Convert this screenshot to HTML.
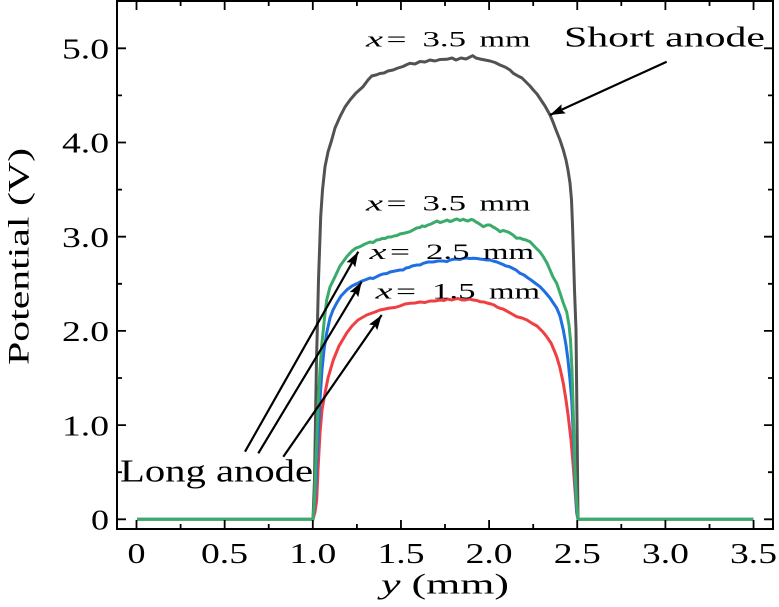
<!DOCTYPE html>
<html><head><meta charset="utf-8"><style>
html,body{margin:0;padding:0;background:#fff;}
svg{display:block;}
text{font-family:"Liberation Serif",serif;fill:#000;}
</style></head><body>
<svg width="779" height="607" viewBox="0 0 779 607" xmlns="http://www.w3.org/2000/svg">
<defs>
<marker id="ah" markerUnits="userSpaceOnUse" markerWidth="16" markerHeight="12" refX="15" refY="5" orient="auto">
<path d="M0,0 L15,5 L0,10 L2.5,5 z" fill="#000"/>
</marker>
</defs>
<rect x="0" y="0" width="779" height="607" fill="#fff"/>

<!-- curves -->
<g fill="none" stroke-width="3" stroke-linejoin="round" stroke-linecap="butt">
<polyline stroke="#525252" points="137,519.3 313,519.3 314.5,480 315.5,420 316.5,360 317.3,330 318.5,280 320.7,216.7 322.5,190 325,166.7 328,152 331.7,140 335,128 340,116.7 345,107 350,100 356,93 363,86.7 368,80 371.7,76 376,75 380,73.5 384,73 388,71 393,70 398,68 403,66.5 406,65 410,63.3 415,64 420,61.5 425,62 430,60 435,61 440,59.5 446.7,59.3 452,58 456,60 461,58 466,59 470,57 472.7,55.7 476,58 480,59 485,60 490,61 495,62.5 500,65 505,67 510,70 513.3,73.3 518,76 522,78 526,82 530,86 533.3,90 537,94 541,100 545,106 550,115 553,122 556,130 560,140 563.3,150 566,160 568,170 570,183 571.5,200 572.5,225 573.3,250 574.5,290 576,330 577,420 578,519.3 753.5,519.3"/>
<polyline stroke="#ef3f42" points="313,519.3 315,512 316.7,500 318,470 320,433 322,410 325,393 328,378 333.3,360 339,346 346.7,333 352,326 358,320 366.7,315 375,312 380,310 385,309 390,308 395,307.5 400,306 405,304 410,303.3 415,303 420,302 425,302.5 430,301 435,301 440,300 444,300.5 447,299 452,300 455,299 458,298.5 462,300 465,300 469,299 473.3,300 477,300.5 480,301.7 484,302 487,303 491,304 494,305 497,307 500,308.3 503,309 506.7,311 512,314 516.7,316.7 522,318 527,320 530,322 533.3,324 537,326 540,329 543,332 546.7,336.7 551,343 554,350 556.7,356.7 560,368 563.3,383.3 566,400 568.3,416.7 571,440 573.3,466.7 575,490 576.7,513.3 578,519.3"/>
<polyline stroke="#1f6fe3" points="313,519.3 315,500 317,460 320,400 322,370 324,350 326.7,333 330,318 333,310 336.7,303 341,296 346.7,290 352,286 358.3,283 362,281 365,280 370,278 373,278.5 376.7,276.7 380,275 383,274 387,273.5 390,272 395,271 400,270 403,270 406,268 409,267.5 412,266 417,265 420,265 423.3,263.3 428,262 433,262 438,261 443,261 447,261.5 450,260 455,259 460,259.5 463,258.5 466,258 470,258.5 473.3,258.3 477,258.5 480,259 484,259.5 487,260 490,260 493,261 497,262 500,263.3 503,264.5 506,266 509,266.5 512,268 516,270 520,273.3 524,275 528,278 531,280 535,283 540,286.7 545,292 550,298 553.3,303 556.7,308 560,316 563.3,330 566,345 568,360 570,380 571.7,400 573.5,440 575,480 576.7,510 578,519.3"/>
<polyline stroke="#3aab6a" points="137,519.3 313,519.3 314.5,500 316,460 318.3,400 320,370 321.7,345 323,333 324.5,318 326.7,300 330,287 335,276.7 340,266 346.7,256.7 352,251 356,248 360,246.7 365,244 370,242 373,242.5 376.7,240 380,239.5 382,238.5 385,238.5 388,237 391,237 394,236 397,235.5 400,234 405,233 410,231.7 413,230 416.7,228 420,227.5 422,226 425,226.5 428,225 431,224 433,223 437,221 440,222.5 442,222 445,221 447,220 450,221.5 452,221 455,219.5 457,219 460,220.5 463.3,219.3 466,220.5 468,221 471,219.5 473.3,220 476,222 478,223 481,225 483.3,226.7 487,225 490,225 493,227 495,228 498,230 500,231.7 503,230.5 505,231 508,232 510,233 513,235 516.7,238.3 520,238 522,239 526,240 530,241.7 535,247 540,252 543.3,256.7 547,263 550,270 553,277 556.7,283.3 560,293 563.3,303 566.7,312 569,325 570.5,340 572,370 573.5,420 575,470 576.5,500 578,519.3 753.5,519.3"/>
</g>

<!-- frame -->
<rect x="117" y="1" width="656" height="528" fill="none" stroke="#000" stroke-width="2"/>

<!-- ticks -->
<g stroke="#000" stroke-width="1.8" fill="none">
<path d="M136.5,529v-9M224.65,529v-9M312.8,529v-9M400.95,529v-9M489.1,529v-9M577.25,529v-9M665.4,529v-9M753.55,529v-9
M180.6,529v-5M268.7,529v-5M356.9,529v-5M445,529v-5M533.2,529v-5M621.3,529v-5M709.5,529v-5
M136.5,1v9M224.65,1v9M312.8,1v9M400.95,1v9M489.1,1v9M577.25,1v9M665.4,1v9M753.55,1v9
M180.6,1v5M268.7,1v5M356.9,1v5M445,1v5M533.2,1v5M621.3,1v5M709.5,1v5
M117,519.3h9M117,425.1h9M117,330.9h9M117,236.7h9M117,142.5h9M117,48.3h9
M117,472.2h5M117,378h5M117,283.8h5M117,189.6h5M117,95.4h5
M773,519.3h-9M773,425.1h-9M773,330.9h-9M773,236.7h-9M773,142.5h-9M773,48.3h-9
M773,472.2h-5M773,378h-5M773,283.8h-5M773,189.6h-5M773,95.4h-5"/>
</g>

<!-- y tick labels -->
<g font-size="29" text-anchor="end">
<text x="109" y="529.5" textLength="18" lengthAdjust="spacingAndGlyphs">0</text>
<text x="109" y="435.3" textLength="47" lengthAdjust="spacingAndGlyphs">1.0</text>
<text x="109" y="341.1" textLength="47" lengthAdjust="spacingAndGlyphs">2.0</text>
<text x="109" y="246.9" textLength="47" lengthAdjust="spacingAndGlyphs">3.0</text>
<text x="109" y="152.7" textLength="47" lengthAdjust="spacingAndGlyphs">4.0</text>
<text x="109" y="58.5" textLength="47" lengthAdjust="spacingAndGlyphs">5.0</text>
</g>

<!-- x tick labels -->
<g font-size="29">
<text x="127.5" y="563" textLength="18" lengthAdjust="spacingAndGlyphs">0</text>
<text x="201" y="563" textLength="47" lengthAdjust="spacingAndGlyphs">0.5</text>
<text x="289.3" y="563" textLength="47" lengthAdjust="spacingAndGlyphs">1.0</text>
<text x="377.5" y="563" textLength="47" lengthAdjust="spacingAndGlyphs">1.5</text>
<text x="465.6" y="563" textLength="47" lengthAdjust="spacingAndGlyphs">2.0</text>
<text x="553.8" y="563" textLength="47" lengthAdjust="spacingAndGlyphs">2.5</text>
<text x="641.9" y="563" textLength="47" lengthAdjust="spacingAndGlyphs">3.0</text>
<text x="730" y="563" textLength="47" lengthAdjust="spacingAndGlyphs">3.5</text>
</g>

<!-- axis labels -->
<text x="381" y="593.5" font-size="29" textLength="128" lengthAdjust="spacingAndGlyphs"><tspan font-style="italic">y</tspan> (mm)</text>
<text transform="translate(28.5,256.5) rotate(-90)" text-anchor="middle" font-size="30" textLength="217" lengthAdjust="spacingAndGlyphs">Potential (V)</text>

<!-- annotations -->
<g font-size="22.5">
<g id="lab">
<text x="366" y="46.7" font-style="italic" textLength="17" lengthAdjust="spacingAndGlyphs">x</text>
<text x="386.5" y="46.7" textLength="20" lengthAdjust="spacingAndGlyphs">=</text>
<text x="422.5" y="46.7" textLength="43.5" lengthAdjust="spacingAndGlyphs">3.5</text>
<text x="479.5" y="46.7" textLength="51" lengthAdjust="spacingAndGlyphs">mm</text>
</g>
<g transform="translate(0,164)">
<text x="366" y="46.7" font-style="italic" textLength="17" lengthAdjust="spacingAndGlyphs">x</text>
<text x="386.5" y="46.7" textLength="20" lengthAdjust="spacingAndGlyphs">=</text>
<text x="422.5" y="46.7" textLength="43.5" lengthAdjust="spacingAndGlyphs">3.5</text>
<text x="479.5" y="46.7" textLength="51" lengthAdjust="spacingAndGlyphs">mm</text>
</g>
<g transform="translate(3.5,212.3)">
<text x="366" y="46.7" font-style="italic" textLength="17" lengthAdjust="spacingAndGlyphs">x</text>
<text x="386.5" y="46.7" textLength="20" lengthAdjust="spacingAndGlyphs">=</text>
<text x="422.5" y="46.7" textLength="43.5" lengthAdjust="spacingAndGlyphs">2.5</text>
<text x="479.5" y="46.7" textLength="51" lengthAdjust="spacingAndGlyphs">mm</text>
</g>
<g transform="translate(9.5,251.6)">
<text x="366" y="46.7" font-style="italic" textLength="17" lengthAdjust="spacingAndGlyphs">x</text>
<text x="386.5" y="46.7" textLength="20" lengthAdjust="spacingAndGlyphs">=</text>
<text x="422.5" y="46.7" textLength="43.5" lengthAdjust="spacingAndGlyphs">1.5</text>
<text x="479.5" y="46.7" textLength="51" lengthAdjust="spacingAndGlyphs">mm</text>
</g>
</g>
<text x="564" y="46.7" font-size="29" textLength="201" lengthAdjust="spacingAndGlyphs">Short anode</text>
<text x="120" y="481.7" font-size="32" textLength="193" lengthAdjust="spacingAndGlyphs">Long anode</text>

<!-- arrows -->
<g stroke="#000" stroke-width="2.2" fill="none">
<line x1="666.7" y1="61.7" x2="550" y2="115" marker-end="url(#ah)"/>
<line x1="245" y1="451.7" x2="358.3" y2="251.7" marker-end="url(#ah)"/>
<line x1="258.3" y1="453.3" x2="361.7" y2="281.7" marker-end="url(#ah)"/>
<line x1="283.3" y1="456.7" x2="381.7" y2="315" marker-end="url(#ah)"/>
</g>
</svg>
</body></html>
